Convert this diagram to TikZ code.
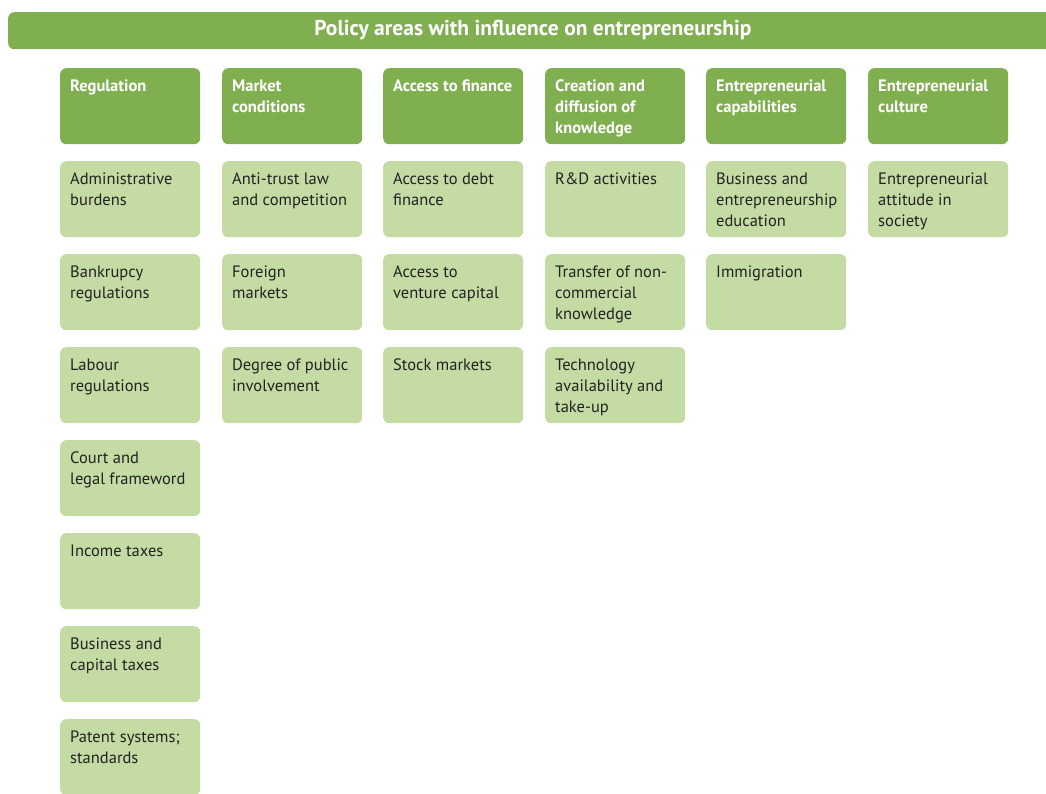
\documentclass[tikz,border=0pt]{standalone}
\usepackage{fontspec}
\setmainfont{PT Sans}
\definecolor{darkg}{HTML}{80AF50}
\definecolor{lightg}{HTML}{C4DBA4}
\definecolor{txt}{HTML}{222222}
\tikzset{
  cell/.style={anchor=north west, rounded corners=6pt, inner xsep=10pt, inner ysep=11.5pt, font=\fontsize{16.5}{21}\selectfont},
  head/.style={cell, fill=darkg, text=white, font=\fontsize{16.5}{21}\selectfont\bfseries},
  item/.style={cell, fill=lightg, text=txt},
}
\newcommand{\cellbox}[1]{\parbox[t][53pt][t]{120pt}{\raggedright\hbadness=10000\hfuzz=10pt #1}}
\begin{document}
\begin{tikzpicture}[x=1pt,y=-1pt]
\useasboundingbox (0,0) rectangle (1046,794);
\clip (0,0) rectangle (1046,794);
\node[fill=darkg, rounded corners=6pt, anchor=north west, minimum width=1060pt, minimum height=37pt, inner sep=0] (banner) at (8,12) {};
\node[text=white, font=\fontsize{21.5}{24}\selectfont\bfseries] (title) at (533,30.5) {Policy areas with influence on entrepreneurship};
% headers
\node[head] (h1) at (60,68)  {\cellbox{Regulation}};
\node[head] (h2) at (222,68) {\cellbox{Market\\conditions}};
\node[head] (h3) at (383,68) {\cellbox{Access to finance}};
\node[head] (h4) at (545,68) {\cellbox{Creation and\\diffusion of\\knowledge}};
\node[head] (h5) at (706,68) {\cellbox{Entrepreneurial\\capabilities}};
\node[head] (h6) at (868,68) {\cellbox{Entrepreneurial\\culture}};
% column 1
\node[item] (a1) at (60,161) {\cellbox{Administrative\\burdens}};
\node[item] (a2) at (60,254) {\cellbox{Bankrupcy\\regulations}};
\node[item] (a3) at (60,347) {\cellbox{Labour\\regulations}};
\node[item] (a4) at (60,440) {\cellbox{Court and\\legal frameword}};
\node[item] (a5) at (60,533) {\cellbox{Income taxes}};
\node[item] (a6) at (60,626) {\cellbox{Business and\\capital taxes}};
\node[item] (a7) at (60,719) {\cellbox{Patent systems;\\standards}};
% column 2
\node[item] (b1) at (222,161) {\cellbox{Anti-trust law\\and competition}};
\node[item] (b2) at (222,254) {\cellbox{Foreign\\markets}};
\node[item] (b3) at (222,347) {\cellbox{Degree of public\\involvement}};
% column 3
\node[item] (c1) at (383,161) {\cellbox{Access to debt\\finance}};
\node[item] (c2) at (383,254) {\cellbox{Access to\\venture capital}};
\node[item] (c3) at (383,347) {\cellbox{Stock markets}};
% column 4
\node[item] (d1) at (545,161) {\cellbox{R\&D activities}};
\node[item] (d2) at (545,254) {\cellbox{Transfer of non-\\commercial\\knowledge}};
\node[item] (d3) at (545,347) {\cellbox{Technology\\availability and\\take-up}};
% column 5
\node[item] (e1) at (706,161) {\cellbox{Business and\\entrepreneurship\\education}};
\node[item] (e2) at (706,254) {\cellbox{Immigration}};
% column 6
\node[item] (f1) at (868,161) {\cellbox{Entrepreneurial\\attitude in\\society}};
\end{tikzpicture}
\end{document}
